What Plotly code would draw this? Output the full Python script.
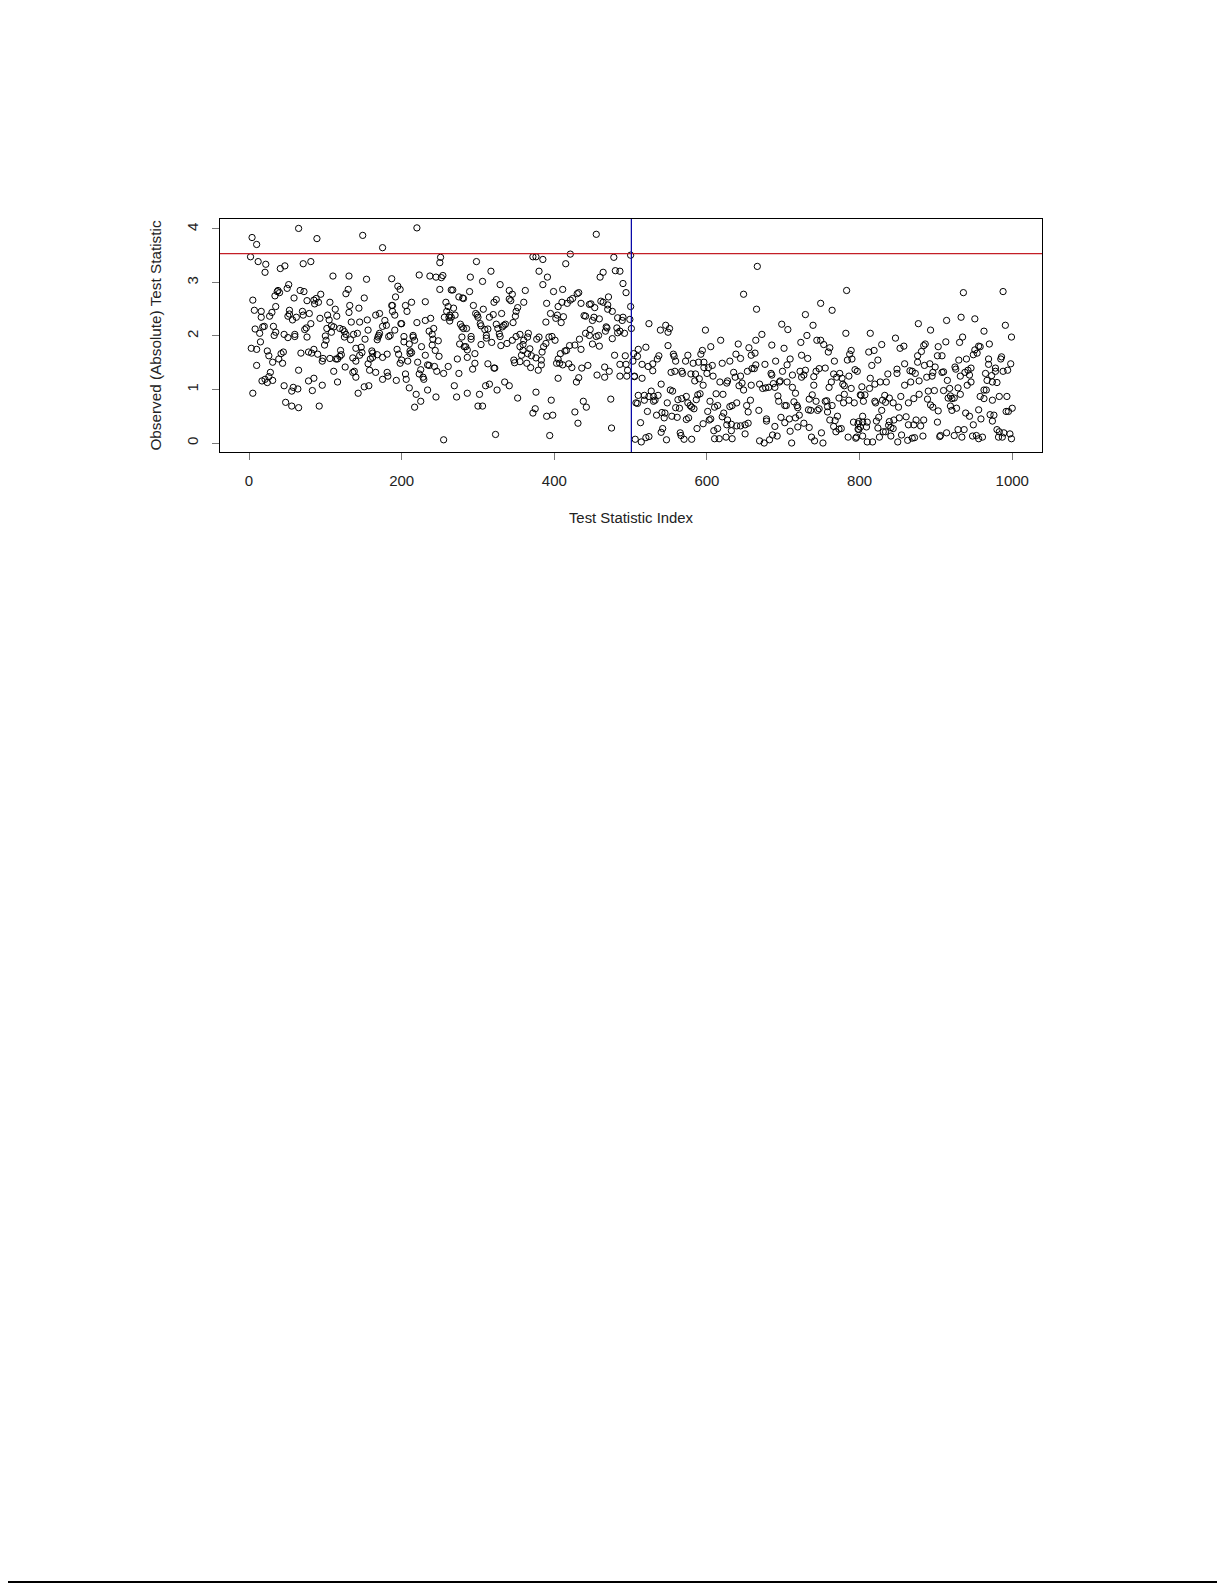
import plotly.graph_objects as go

# values, one block per stretch of the index axis
idx_0_200 = [4,10,65,89,149,175,2,12,22,21,41,47,71,81,110,131,154,187,
    5,7,16,16,27,30,35,34,37,38,40,50,52,59,67,72,76,85,88,86,91,94,106,113,127,130,132,131,144,151,
    53,53,51,57,62,70,71,79,81,93,103,105,115,134,145,155,166,171,178,187,188,188,191,192,195,198,
    8,14,18,20,32,35,33,46,51,60,60,73,75,76,102,108,111,108,100,101,119,123,125,127,125,133,137,142,156,152,147,140,
    175,180,171,170,169,168,183,185,191,199,
    3,10,15,24,26,31,39,42,45,44,68,78,82,85,90,96,97,99,106,114,119,121,120,116,136,140,145,148,161,162,162,159,156,168,175,181,194,196,198,
    10,28,65,78,85,111,126,116,136,138,140,158,166,181,182,175,193,
    17,21,24,26,31,46,58,56,64,83,96,5,143,151,157,48,56,65,92]
stat_0_200 = [3.84,3.71,4.01,3.82,3.88,3.65,3.48,3.39,3.34,3.19,3.26,3.31,3.35,3.39,3.12,3.12,3.06,3.07,
    2.67,2.48,2.46,2.35,2.37,2.44,2.55,2.75,2.83,2.85,2.81,2.89,2.96,2.71,2.85,2.83,2.66,2.67,2.70,2.60,2.63,2.78,2.63,2.50,2.79,2.87,2.57,2.44,2.52,2.71,
    2.48,2.41,2.37,2.30,2.35,2.46,2.39,2.42,2.23,2.33,2.39,2.30,2.37,2.26,2.26,2.30,2.39,2.42,2.29,2.57,2.57,2.46,2.39,2.73,2.93,2.87,
    2.13,2.05,2.17,2.18,2.18,2.07,2.01,2.03,1.97,2.03,1.99,2.12,2.15,1.98,2.14,2.19,2.17,2.07,2.00,1.92,2.14,2.12,2.08,2.03,1.98,1.93,2.03,2.05,2.11,1.94,1.79,1.77,
    2.18,2.20,2.05,2.01,1.98,1.93,1.99,2.01,2.11,2.23,
    1.77,1.75,1.89,1.72,1.63,1.51,1.57,1.67,1.70,1.49,1.68,1.70,1.68,1.75,1.66,1.53,1.58,1.83,1.58,1.57,1.62,1.65,1.73,1.57,1.59,1.53,1.64,1.69,1.72,1.68,1.60,1.57,1.48,1.65,1.60,1.66,1.75,1.66,1.49,
    1.45,1.32,1.36,1.16,1.21,1.34,1.42,1.14,1.32,1.34,1.23,1.36,1.32,1.32,1.25,1.19,1.17,
    1.16,1.19,1.13,1.24,1.17,1.07,1.04,0.97,1.01,0.98,1.08,0.93,0.93,1.05,1.07,0.76,0.69,0.66,0.69]

idx_200_500 = [220,251,250,298,455,421,372,376,385,415,478,500,223,237,245,252,254,290,306,317,329,380,391,385,460,464,480,486,490,494,
    250,265,267,275,280,281,289,341,345,341,343,362,399,411,432,430,424,421,417,410,390,405,435,446,448,453,461,464,471,470,470,476,500,
    258,261,268,259,263,270,256,262,265,263,294,307,297,299,300,320,315,321,324,331,360,352,350,349,346,336,334,332,326,324,303,304,313,309,277,279,281,285,
    395,404,402,412,409,389,439,441,450,452,459,483,490,489,499,468,469,482,447,441,446,455,458,467,476,483,486,492,501,
    433,427,420,416,414,408,435,450,459,401,397,393,380,377,366,365,360,355,350,345,338,330,329,328,318,311,311,304,291,291,279,276,282,284,286,296,286,273,
    242,236,240,241,248,240,244,249,238,231,220,200,231,213,207,205,203,203,210,215,215,217,226,
    211,213,211,231,200,208,221,234,236,243,261,225,223,228,229,246,255,275,293,296,313,321,322,205,206,
    210,219,225,217,234,245,269,272,286,302,300,306,310,315,325,335,341,352,376,396,375,372,390,398,427,431,438,442,474,475,323,394,255,506,
    405,429,432,456,466,472,466,486,486,494,495,496,505,493,479,503,504,444,436,423,419,411,407,403,405,379,383,383,384,376,
    370,365,359,368,369,364,355,348,347,355,359,386,389,357]
stat_200_500 = [4.02,3.47,3.37,3.39,3.90,3.53,3.48,3.48,3.43,3.35,3.47,3.51,3.14,3.12,3.10,3.09,3.13,3.10,3.02,3.21,2.96,3.21,3.10,2.96,3.10,3.19,3.22,3.21,2.98,2.81,
    2.87,2.86,2.86,2.73,2.71,2.70,2.83,2.85,2.78,2.69,2.66,2.85,2.83,2.87,2.81,2.79,2.70,2.67,2.61,2.63,2.61,2.55,2.61,2.59,2.60,2.53,2.65,2.63,2.73,2.58,2.50,2.46,2.55,
    2.63,2.55,2.52,2.46,2.39,2.39,2.35,2.35,2.35,2.28,2.57,2.50,2.42,2.39,2.35,2.40,2.35,2.63,2.68,2.42,2.63,2.53,2.46,2.37,2.25,2.22,2.20,2.17,2.14,2.22,2.23,2.19,2.13,2.12,2.22,2.17,2.14,2.14,
    2.42,2.39,2.33,2.36,2.25,2.26,2.38,2.37,2.29,2.35,2.32,2.34,2.35,2.29,2.31,2.17,2.15,2.15,2.12,2.05,2.01,1.99,2.01,2.09,1.95,2.06,2.09,2.05,2.14,
    1.94,1.83,1.82,1.73,1.72,1.67,1.75,1.85,1.81,1.92,1.99,1.98,1.98,1.94,2.05,1.98,1.92,2.03,1.99,1.92,1.86,1.82,1.99,2.04,1.88,1.96,2.01,1.84,1.99,1.94,1.98,1.85,1.80,1.80,1.74,1.67,1.60,1.57,
    2.14,2.09,2.03,1.94,1.91,1.83,1.73,1.62,2.33,2.29,2.25,2.23,2.64,2.63,2.46,2.57,1.89,1.99,1.85,2.01,1.98,1.92,1.80,
    1.72,1.69,1.67,1.64,1.55,1.53,1.51,1.46,1.45,1.43,1.43,1.37,1.29,1.23,1.19,1.34,1.30,1.30,1.38,1.49,1.48,1.40,1.40,1.29,1.19,
    1.03,0.91,0.78,0.67,0.99,0.86,1.07,0.86,0.93,0.91,0.69,0.69,1.07,1.10,0.99,1.14,1.07,0.84,0.95,0.80,0.64,0.56,0.50,0.52,0.58,0.37,0.78,0.67,0.82,0.28,0.16,0.14,0.06,0.07,
    1.21,1.14,1.22,1.27,1.23,1.34,1.42,1.25,1.47,1.47,1.25,1.36,1.25,1.63,1.64,1.53,1.67,1.45,1.40,1.41,1.48,1.46,1.49,1.49,1.57,1.36,1.46,1.55,1.70,1.59,
    1.63,1.67,1.73,1.76,1.41,1.49,1.52,1.50,1.55,1.80,1.84,1.80,1.86,1.64]

idx_500_800 = [666,648,665,783,749,764,729,698,706,739,731,782,524,546,539,549,551,598,672,664,618,744,749,723,753,605,549,520,510,641,655,685,701,761,759,789,787,594,592,
    509,537,535,556,557,559,575,572,582,589,596,596,600,607,602,620,630,638,644,658,663,676,664,659,662,653,690,709,705,724,732,767,784,790,
    515,523,529,529,515,505,553,558,567,568,579,585,608,590,584,595,540,617,627,626,635,637,644,646,642,648,658,669,699,712,722,729,727,724,740,743,747,755,740,766,774,770,763,777,786,794,797,778,780,760,
    684,685,687,695,696,705,673,677,681,689,712,716,738,734,743,755,757,773,780,786,779,793,801,
    527,510,518,524,530,536,518,530,532,509,507,552,555,562,567,573,548,575,578,580,583,559,564,586,588,591,604,612,621,614,610,601,630,633,639,657,652,654,668,693,694,702,704,714,718,719,733,736,745,747,758,764,758,
    534,541,545,544,554,561,522,513,576,573,603,605,595,587,620,622,627,626,632,639,644,650,654,650,632,614,609,678,678,689,697,702,708,709,716,719,721,727,734,750,761,768,771,766,769,773,776,792,798,798,
    542,540,565,566,547,570,580,610,616,625,633,514,520,524,669,675,682,686,692,711,737,741,752,785,795,796]
stat_500_800 = [3.30,2.78,2.50,2.85,2.61,2.48,2.40,2.22,2.12,2.20,2.01,2.05,2.23,2.20,2.11,2.07,2.14,2.11,2.03,1.92,1.92,1.92,1.92,1.88,1.84,1.80,1.82,1.79,1.75,1.85,1.78,1.83,1.77,1.78,1.70,1.73,1.66,1.73,1.66,
    1.62,1.63,1.57,1.66,1.62,1.53,1.64,1.53,1.49,1.51,1.51,1.41,1.30,1.45,1.41,1.49,1.53,1.66,1.58,1.64,1.68,1.47,1.46,1.39,1.39,1.34,1.53,1.57,1.46,1.64,1.58,1.53,1.55,1.57,
    1.47,1.43,1.48,1.35,1.21,1.24,1.32,1.34,1.34,1.30,1.29,1.29,1.25,1.20,1.16,1.08,1.10,1.14,1.16,1.12,1.32,1.23,1.25,1.12,1.07,0.99,1.08,1.10,1.34,1.27,1.34,1.36,1.27,1.23,1.24,1.34,1.39,1.40,1.08,1.29,1.30,1.23,1.14,1.21,1.25,1.37,1.34,1.10,1.07,1.04,
    1.30,1.27,1.11,1.14,1.16,1.14,1.02,1.03,1.04,1.04,1.04,0.93,0.90,0.82,0.78,0.78,0.79,0.84,0.91,0.80,0.75,0.75,0.90,
    0.97,0.89,0.89,0.87,0.87,0.89,0.80,0.78,0.80,0.74,0.75,0.99,0.97,0.81,0.83,0.87,0.75,0.75,0.70,0.67,0.64,0.66,0.65,0.81,0.90,0.92,0.78,0.92,0.91,0.70,0.67,0.59,0.68,0.70,0.75,0.80,0.70,0.58,0.61,0.88,0.78,0.70,0.70,0.77,0.70,0.66,0.62,0.61,0.61,0.64,0.68,0.70,0.58,
    0.52,0.57,0.56,0.47,0.50,0.48,0.59,0.38,0.47,0.44,0.43,0.45,0.36,0.27,0.49,0.56,0.43,0.34,0.35,0.32,0.32,0.34,0.37,0.17,0.23,0.27,0.23,0.45,0.41,0.31,0.48,0.38,0.45,0.22,0.47,0.30,0.52,0.37,0.29,0.19,0.43,0.42,0.50,0.31,0.21,0.26,0.27,0.39,0.36,0.26,
    0.27,0.20,0.19,0.14,0.06,0.07,0.07,0.08,0.08,0.11,0.08,0.02,0.10,0.12,0.04,0.00,0.06,0.15,0.13,0.00,0.11,0.04,0.00,0.11,0.09,0.11]

idx_800_1000 = [936,988,877,893,914,933,951,991,963,999,814,847,913,935,931,903,970,829,819,812,853,858,884,886,881,876,902,908,956,958,951,949,930,940,954,969,969,986,985,998,
    876,885,892,899,859,824,816,925,926,946,942,938,978,978,988,994,866,869,873,849,849,837,814,820,827,835,813,803,789,
    896,895,888,878,867,859,908,910,915,932,944,946,941,965,967,973,974,980,918,929,910,898,890,878,871,864,854,833,839,830,834,820,821,805,802,807,844,851,829,825,822,804,799,804,810,809,801,799,824,831,834,
    839,845,852,861,838,841,844,864,871,874,880,884,889,893,896,903,902,916,919,924,921,932,919,927,921,939,944,956,959,949,963,966,958,963,974,983,993,971,976,974,992,995,1000,
    980,983,989,997,999,982,987,961,956,948,953,937,929,934,924,914,906,905,883,872,869,863,855,850,841,826,817,810,804]
stat_800_1000 = [2.81,2.83,2.23,2.11,2.29,2.35,2.32,2.20,2.09,1.98,2.05,1.96,1.89,1.98,1.88,1.80,1.85,1.84,1.73,1.70,1.77,1.81,1.82,1.85,1.71,1.63,1.63,1.63,1.81,1.80,1.74,1.65,1.55,1.57,1.68,1.57,1.47,1.61,1.57,1.48,
    1.51,1.45,1.48,1.42,1.48,1.55,1.45,1.42,1.38,1.40,1.36,1.32,1.40,1.34,1.34,1.36,1.35,1.34,1.30,1.38,1.30,1.29,1.21,1.10,1.14,1.14,1.02,1.05,1.02,
    1.32,1.25,1.23,1.16,1.14,1.08,1.32,1.33,1.17,1.25,1.27,1.14,1.08,1.30,1.17,1.26,1.14,1.13,1.02,1.03,0.98,0.98,0.97,0.91,0.83,0.75,0.87,0.89,0.84,0.80,0.76,0.78,0.75,0.78,0.89,0.90,0.75,0.67,0.61,0.48,0.41,0.50,0.40,0.39,0.39,0.30,0.30,0.25,0.28,0.21,0.21,
    0.40,0.43,0.47,0.49,0.33,0.29,0.27,0.34,0.34,0.43,0.32,0.43,0.82,0.71,0.67,0.60,0.39,0.84,0.88,0.84,0.83,0.91,0.69,0.65,0.61,0.56,0.50,0.62,0.45,0.34,0.99,0.99,0.87,0.83,0.80,0.87,0.87,0.53,0.52,0.41,0.59,0.59,0.65,
    0.25,0.21,0.19,0.17,0.08,0.11,0.11,0.11,0.08,0.13,0.14,0.25,0.25,0.11,0.14,0.19,0.14,0.12,0.13,0.10,0.09,0.05,0.15,0.02,0.13,0.11,0.02,0.02,0.13]

x_ticks = [0, 200, 400, 600, 800, 1000]
y_ticks = [0, 1, 2, 3, 4]
cutoff_value = 3.54
split_index = 501

assert len(idx_0_200) == len(stat_0_200)
assert len(idx_200_500) == len(stat_200_500)
assert len(idx_500_800) == len(stat_500_800)
assert len(idx_800_1000) == len(stat_800_1000)

x_all = idx_0_200 + idx_200_500 + idx_500_800 + idx_800_1000
y_all = stat_0_200 + stat_200_500 + stat_500_800 + stat_800_1000

fig = go.Figure(go.Scatter(x=x_all, y=y_all, mode="markers",
                           marker=dict(symbol="circle-open", size=6.3, color="black",
                                       line=dict(width=1, color="black"))))

fig.add_hline(y=cutoff_value, line=dict(color="#c41e26", width=1.3))
fig.add_vline(x=split_index, line=dict(color="#0a0aa8", width=1.3))

# the scan has a black rule along the bottom of the page
fig.add_shape(type="line", xref="paper", yref="paper", x0=-0.26, x1=1.222, y0=-4.85, y1=-4.85,
              line=dict(color="black", width=2))

tick_font = dict(family="Liberation Sans", size=15, color="#222222")

fig.update_xaxes(range=[-38, 1039], tickvals=x_ticks, ticks="outside", ticklen=7, tickwidth=1,
                 tickcolor="#777777", showgrid=False, zeroline=False, showline=True, mirror=True,
                 linecolor="black", linewidth=1.3, tickfont=tick_font, ticklabelstandoff=8,
                 title=dict(text="Test Statistic Index",
                            font=dict(family="Liberation Sans", size=14.9, color="#222222"), standoff=24))
fig.update_yaxes(range=[-0.168, 4.186], tickvals=y_ticks, ticks="outside", ticklen=7, tickwidth=1,
                 tickcolor="#777777", showgrid=False, zeroline=False, showline=True, mirror=True,
                 linecolor="black", linewidth=1.3, tickfont=tick_font, tickangle=-90, ticklabelstandoff=8,
                 title=dict(text="Observed (Absolute) Test Statistic",
                            font=dict(family="Liberation Sans", size=15.3, color="#222222"), standoff=18))

# the page itself adds 8px round the figure, so the margins are 8px less than the picture's
fig.update_layout(width=1217, height=1577, showlegend=False, plot_bgcolor="white", paper_bgcolor="white",
                  margin=dict(l=211.8, r=182.7, t=210.7, b=1132.7, autoexpand=False))

fig.write_html("out.html")
